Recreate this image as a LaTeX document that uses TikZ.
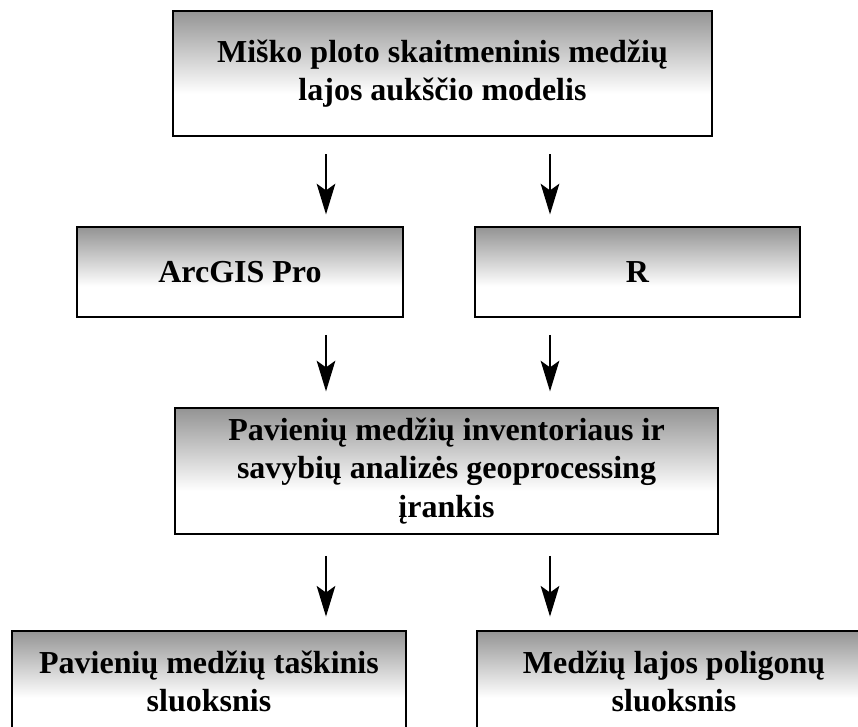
\documentclass[tikz,border=0pt]{standalone}
\usepackage{fontspec}
\setmainfont{Liberation Serif}
\usepackage{xcolor}
\usepackage{tikz}
\usetikzlibrary{arrows.meta,calc}
\pgfdeclareverticalshading{boxfade}{100bp}{color(0bp)=(white); color(25bp)=(white);
  color(42bp)=(white); color(75bp)=(black!42); color(100bp)=(black!42)}
\tikzstyle{gbox}  = [rectangle, draw=black, line width=1.4pt, shading=boxfade,
                     align=center, inner sep=0pt,
                     font=\fontsize{24}{29}\selectfont\bfseries]
\tikzstyle{arr}   = [-{Stealth[length=23pt, width=14pt, inset=5pt]}, line width=1.1pt]

\begin{document}
\begin{tikzpicture}[x=0.75pt, y=-0.75pt]
  \clip (0,0) rectangle (858,727);
  \node[gbox, minimum width=404pt, minimum height=94pt] (dsm) at (442.5,73.5)
       {Miško ploto skaitmeninis medžių\\lajos aukščio modelis};
  \node[gbox, minimum width=244pt, minimum height=67pt] (arc) at (240,272) {ArcGIS Pro};
  \node[gbox, minimum width=244pt, minimum height=67pt] (rr)  at (637.5,272) {R};
  \node[gbox, minimum width=407pt, minimum height=94pt] (tool) at (446.5,471)
       {Pavienių medžių inventoriaus ir\\savybių analizės geoprocessing\\įrankis};
  \node[gbox, minimum width=295pt, minimum height=76pt] (pts) at (209,681.5)
       {Pavienių medžių taškinis\\sluoksnis};
  \node[gbox, minimum width=295pt, minimum height=76pt] (poly) at (674,681.5)
       {Medžių lajos poligonų\\sluoksnis};

  % arrow columns
  \coordinate (colL) at (326,0);
  \coordinate (colR) at (550,0);

  \draw[arr, shorten <=13pt, shorten >=9pt]  (dsm.south -| colL) -- (arc.north -| colL);
  \draw[arr, shorten <=13pt, shorten >=9pt]  (dsm.south -| colR) -- (rr.north -| colR);
  \draw[arr, shorten <=13pt, shorten >=12pt] (arc.south -| colL) -- (tool.north -| colL);
  \draw[arr, shorten <=13pt, shorten >=12pt] (rr.south -| colR)  -- (tool.north -| colR);
  \draw[arr, shorten <=16pt, shorten >=10pt] (tool.south -| colL) -- (pts.north -| colL);
  \draw[arr, shorten <=16pt, shorten >=10pt] (tool.south -| colR) -- (poly.north -| colR);
\end{tikzpicture}
\end{document}
